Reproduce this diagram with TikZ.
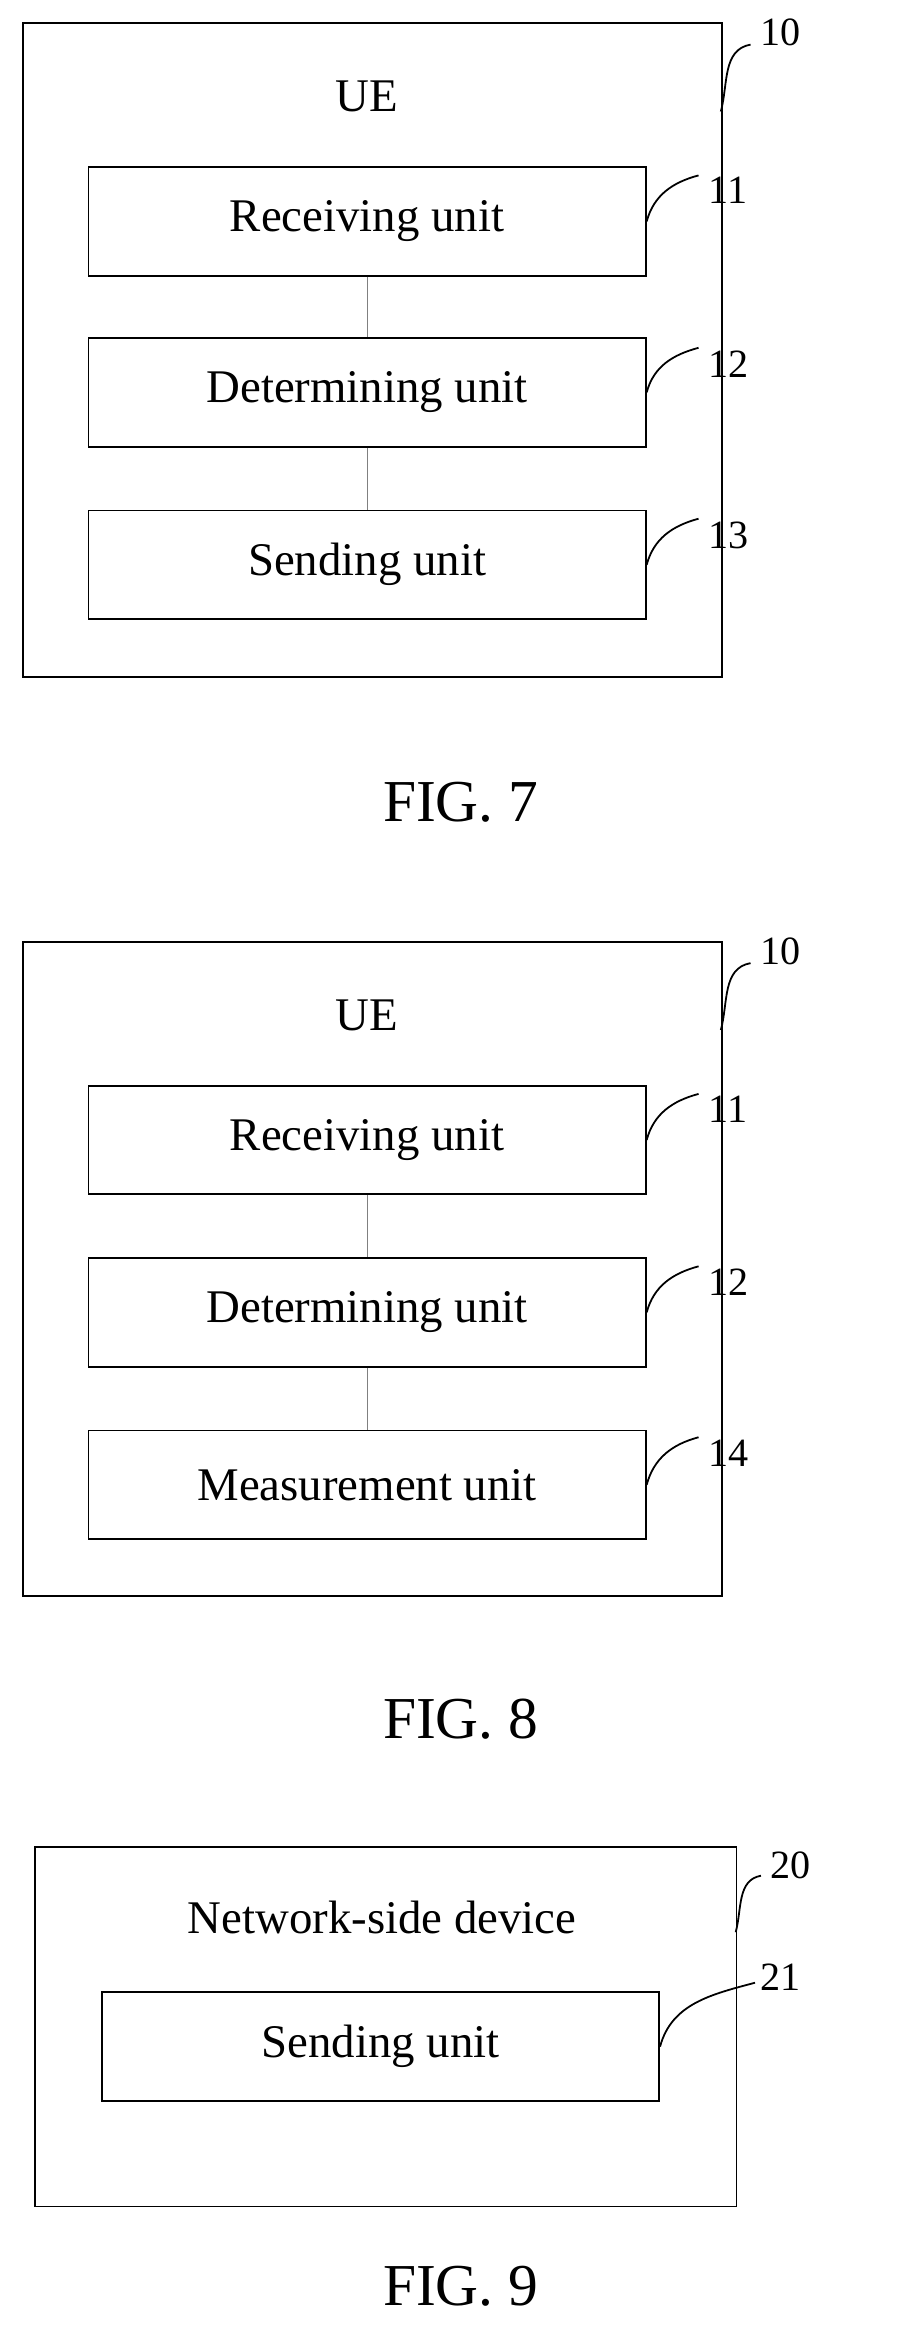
\documentclass[tikz,border=0pt]{standalone}
\usepackage{fontspec}
\setmainfont{Liberation Serif}
\usetikzlibrary{positioning}

\begin{document}
\begin{tikzpicture}[
    x=1pt, y=-1pt,
    outer/.style={rectangle, draw, line width=1.2pt, anchor=north west, inner sep=0pt},
    unit/.style={rectangle, draw, line width=1.2pt, minimum width=375pt, minimum height=73pt, font=\fontsize{31.5}{34}\selectfont},
    title/.style={font=\fontsize{31.5}{34}\selectfont},
    num/.style={font=\fontsize{27}{30}\selectfont},
    fig/.style={font=\fontsize{40}{44}\selectfont},
    lead/.style={line width=1.2pt},
    link/.style={draw=gray, line width=0.8pt}
]
    \useasboundingbox (0,0) rectangle (613,1567);

    % FIG. 7
    \node[outer, minimum width=470pt, minimum height=440pt] (ue) at (15,15) {};
    \node[title] (uet) at (247,65) {UE};
    \node[unit] (recv) at (247,149) {Receiving unit};
    \node[unit] (det) at (247,264) {Determining unit};
    \node[unit] (send) at (247,380) {Sending unit};
    \draw[link] (recv) -- (det);
    \draw[link] (det) -- (send);
    \node[num] (n10) at (525,22) {10};
    \node[num] (n11) at (490,128) {11};
    \node[num] (n12) at (490,245) {12};
    \node[num] (n13) at (490,360) {13};
    \draw[lead] (485,75) to[out=75,in=190] (505,30);
    \draw[lead] (recv.east) to[out=75,in=195] (470,118);
    \draw[lead] (det.east) to[out=75,in=195] (470,234);
    \draw[lead] (send.east) to[out=75,in=195] (470,349);
    \node[fig] (fig7) at (310,540) {FIG. 7};

    % FIG. 8
    \node[outer, minimum width=470pt, minimum height=440pt] (ueb) at (15,633) {};
    \node[title] (uebt) at (247,683) {UE};
    \node[unit] (recvb) at (247,767) {Receiving unit};
    \node[unit] (detb) at (247,883) {Determining unit};
    \node[unit] (meas) at (247,999) {Measurement unit};
    \draw[link] (recvb) -- (detb);
    \draw[link] (detb) -- (meas);
    \node[num] (m10) at (525,640) {10};
    \node[num] (m11) at (490,746) {11};
    \node[num] (m12) at (490,863) {12};
    \node[num] (m14) at (490,978) {14};
    \draw[lead] (485,693) to[out=75,in=190] (505,648);
    \draw[lead] (recvb.east) to[out=75,in=195] (470,736);
    \draw[lead] (detb.east) to[out=75,in=195] (470,852);
    \draw[lead] (meas.east) to[out=75,in=195] (470,967);
    \node[fig] (fig8) at (310,1157) {FIG. 8};

    % FIG. 9
    \node[outer, minimum width=472pt, minimum height=242pt] (net) at (23,1242) {};
    \node[title] (nett) at (257,1290) {Network-side device};
    \node[unit] (sendn) at (256,1377) {Sending unit};
    \node[num] (k20) at (532,1255) {20};
    \node[num] (k21) at (525,1330) {21};
    \draw[lead] (495,1300) to[out=75,in=190] (512,1262);
    \draw[lead] (sendn.east) to[out=75,in=195] (508,1334);
    \node[fig] (fig9) at (310,1538) {FIG. 9};
\end{tikzpicture}
\end{document}
